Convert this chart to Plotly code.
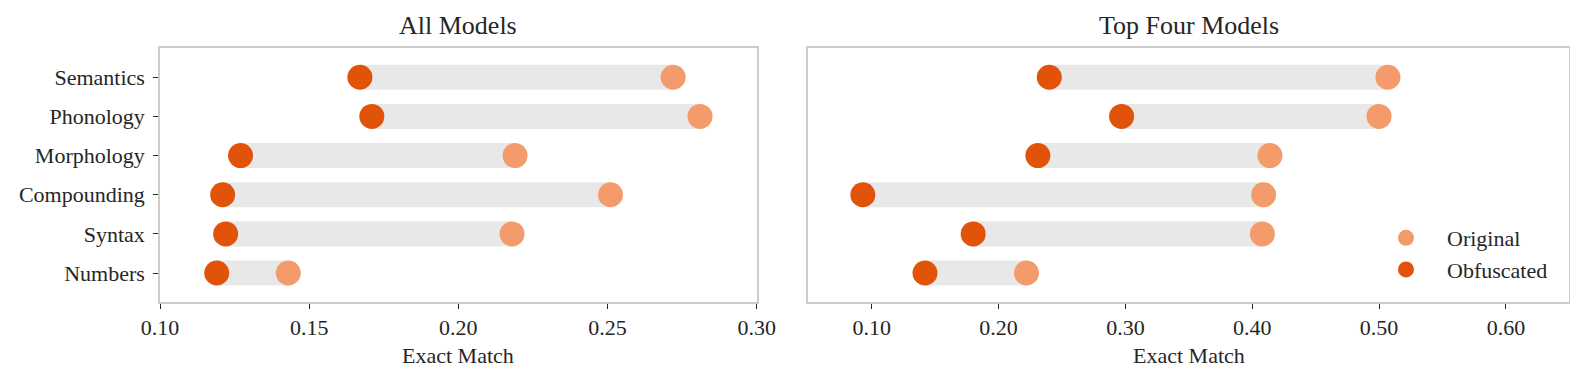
import plotly.graph_objects as go
from plotly.subplots import make_subplots

# Exact-match scores, original vs obfuscated problems
CATEGORIES = ["Semantics", "Phonology", "Morphology", "Compounding", "Syntax", "Numbers"]

ALL_ORIGINAL   = [0.272, 0.281, 0.219, 0.251, 0.218, 0.143]
ALL_OBFUSCATED = [0.167, 0.171, 0.127, 0.121, 0.122, 0.119]

TOP4_ORIGINAL   = [0.507, 0.500, 0.414, 0.409, 0.408, 0.222]
TOP4_OBFUSCATED = [0.240, 0.297, 0.231, 0.093, 0.180, 0.142]

ORIG_C = "#F49B6B"
OBF_C  = "#E05309"
BAR_C  = "#E8E8E8"
SPINE  = "#CCCCCC"
TEXT   = "#262626"
FONT   = "Liberation Serif, Times New Roman, serif"

W, H = 1578, 370
PAD = 8                      # page body margin
FW, FH = W - 2 * PAD, H - PAD


def fx(px):
    return (px - PAD) / FW


def fy(px):
    return 1 - (px - PAD) / FH


fig = make_subplots(rows=1, cols=2, horizontal_spacing=0.03)

panels = [
    (1, ALL_ORIGINAL, ALL_OBFUSCATED),
    (2, TOP4_ORIGINAL, TOP4_OBFUSCATED),
]
for col, orig, obf in panels:
    # grey span between the two scores
    fig.add_trace(go.Bar(
        y=CATEGORIES, x=[o - b for o, b in zip(orig, obf)], base=obf,
        orientation="h", width=0.64, marker=dict(color=BAR_C, line_width=0),
        showlegend=False, hoverinfo="skip",
    ), row=1, col=col)
    fig.add_trace(go.Scatter(
        y=CATEGORIES, x=orig, mode="markers", name="Original",
        marker=dict(color=ORIG_C, size=25, line_width=0),
        showlegend=(col == 2), legendrank=1,
    ), row=1, col=col)
    fig.add_trace(go.Scatter(
        y=CATEGORIES, x=obf, mode="markers", name="Obfuscated",
        marker=dict(color=OBF_C, size=25, line_width=0),
        showlegend=(col == 2), legendrank=2,
    ), row=1, col=col)

# axis boxes, pixel-matched to the reference
y_dom = [fy(302), fy(48.3)]
box = dict(showline=True, mirror=True, linecolor=SPINE, linewidth=1.5,
           showgrid=False, zeroline=False, automargin=False)
xtick = dict(tickformat=".2f", ticks="outside", ticklen=5, tickwidth=1.3,
             tickcolor=TEXT)

fig.update_xaxes(domain=[fx(160), fx(756.7)], range=[0.10, 0.30], dtick=0.05,
                 **xtick, **box, row=1, col=1)
fig.update_xaxes(domain=[fx(808.3), fx(1569.3)], range=[0.05, 0.65],
                 tickvals=[0.1, 0.2, 0.3, 0.4, 0.5, 0.6],
                 **xtick, **box, row=1, col=2)
fig.update_yaxes(domain=y_dom, type="category", categoryorder="array",
                 categoryarray=CATEGORIES, range=[5.74, -0.74],
                 ticks="outside", ticklen=5, tickwidth=1.3, tickcolor=TEXT,
                 ticklabelstandoff=4, **box, row=1, col=1)
fig.update_yaxes(domain=y_dom, type="category", categoryorder="array",
                 categoryarray=CATEGORIES, range=[5.74, -0.74],
                 showticklabels=False, ticks="", **box, row=1, col=2)

# panel titles and x-axis labels
for xref, text in [("x domain", "All Models"), ("x2 domain", "Top Four Models")]:
    fig.add_annotation(text=text, xref=xref, yref="paper", x=0.5, y=y_dom[1],
                       yanchor="bottom", yshift=6, showarrow=False,
                       font=dict(size=26, color=TEXT, family=FONT))
    fig.add_annotation(text="Exact Match", xref=xref, yref="paper", x=0.5,
                       y=fy(355), yanchor="middle", showarrow=False,
                       font=dict(size=22, color=TEXT, family=FONT))

fig.update_layout(
    width=FW, height=FH,
    margin=dict(l=0, r=0, t=0, b=0),
    plot_bgcolor="white", paper_bgcolor="white",
    font=dict(family=FONT, size=22, color=TEXT),
    barmode="overlay",
    legend=dict(x=fx(1365), xanchor="left", y=fy(217), yanchor="top",
                bgcolor="rgba(0,0,0,0)", font=dict(size=22),
                itemsizing="trace", itemwidth=72, tracegroupgap=0),
)

fig.write_html("out.html")
